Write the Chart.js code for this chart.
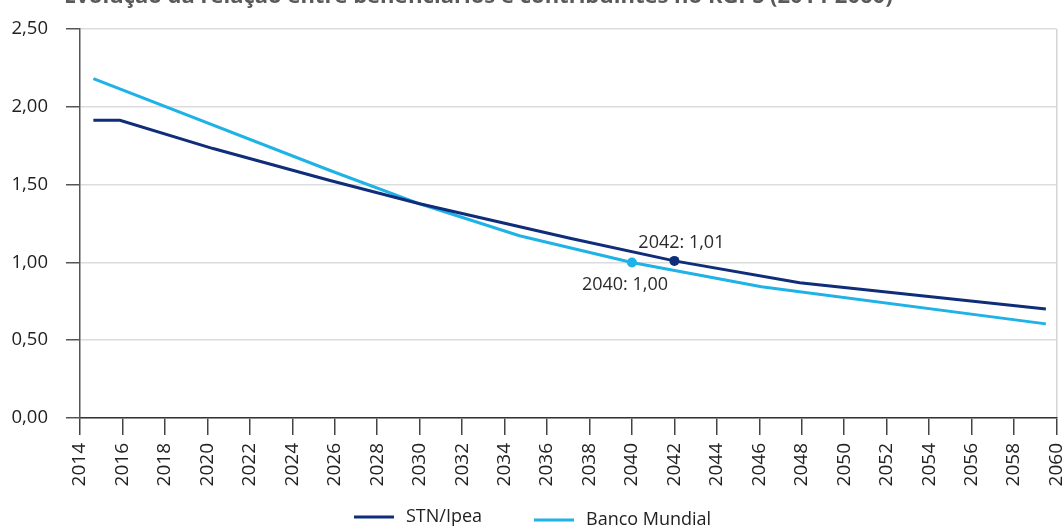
<!DOCTYPE html>
<html>
<head>
<meta charset="utf-8">
<script src="https://cdn.jsdelivr.net/npm/chart.js@4.4.1/dist/chart.umd.min.js"></script>
<style>
  html, body { margin: 0; padding: 0; background: #fff; }
</style>
</head>
<body>
<canvas id="myChart" width="1062" height="528"></canvas>
<script>
const chartTitle = 'Evolução da relação entre beneficiários e contribuintes no RGPS (2014-2060)';

// STN/Ipea projection
const stnYears = [2014.63, 2015.88, 2020.27, 2025.78, 2030.0, 2037.08, 2042, 2047.9, 2059.5];
const stnValues = [1.914, 1.914, 1.732, 1.527, 1.377, 1.155, 1.01, 0.869, 0.70];

// Banco Mundial projection
const bmYears = [2014.63, 2025.78, 2030.0, 2034.7, 2040, 2046.1, 2059.5];
const bmValues = [2.181, 1.591, 1.377, 1.172, 1.00, 0.844, 0.605];

const seriesNames = ['STN/Ipea', 'Banco Mundial'];
const seriesColors = ['#0f2d78', '#1fb2e6'];

// year of the highlighted point in each series
const markYears = [2042, 2040];

const fmt = v => v.toFixed(2).replace('.', ',');
const FONT = '"Open Sans", "Noto Sans", sans-serif';

const toPoints = (xs, ys) => xs.map((x, i) => ({ x: x, y: ys[i] }));

// title sits at the very top, mostly clipped by the canvas edge
const titlePlugin = {
    id: 'topTitle',
    afterDraw(chart) {
        const ctx = chart.ctx;
        ctx.save();
        ctx.font = 'bold 22px ' + FONT;
        ctx.fillStyle = '#5a5a5a';
        ctx.textAlign = 'left';
        ctx.textBaseline = 'alphabetic';
        ctx.fillText(chartTitle, 64, 3);
        ctx.restore();
    }
};

// "year: value" next to the highlighted points
const labelShift = [[7, -18], [-7, 22]];
const markerLabels = {
    id: 'markerLabels',
    afterDatasetsDraw(chart) {
        const ctx = chart.ctx;
        ctx.save();
        ctx.font = '18px ' + FONT;
        ctx.fillStyle = '#2b2b2b';
        ctx.textAlign = 'center';
        ctx.textBaseline = 'middle';
        chart.data.datasets.forEach((ds, i) => {
            const meta = chart.getDatasetMeta(i);
            ds.data.forEach((p, j) => {
                if (p.x !== markYears[i]) return;
                const el = meta.data[j];
                ctx.fillText(p.x + ': ' + fmt(p.y), el.x + labelShift[i][0], el.y + labelShift[i][1]);
            });
        });
        ctx.restore();
    }
};

// legend under the axis labels
const legendPos = [[354, 517], [534, 520]];
const bottomLegend = {
    id: 'bottomLegend',
    afterDraw(chart) {
        const ctx = chart.ctx;
        ctx.save();
        ctx.font = '18px ' + FONT;
        ctx.textBaseline = 'middle';
        ctx.textAlign = 'left';
        chart.data.datasets.forEach((ds, i) => {
            const [x, y] = legendPos[i];
            ctx.strokeStyle = ds.borderColor;
            ctx.lineWidth = 3;
            ctx.beginPath();
            ctx.moveTo(x, y);
            ctx.lineTo(x + 40, y);
            ctx.stroke();
            ctx.fillStyle = '#222';
            ctx.fillText(ds.label, x + 52, y);
        });
        ctx.restore();
    }
};

const data = {
    datasets: [
        {
            label: seriesNames[0],
            data: toPoints(stnYears, stnValues),
            borderColor: seriesColors[0],
            backgroundColor: seriesColors[0],
        },
        {
            label: seriesNames[1],
            data: toPoints(bmYears, bmValues),
            borderColor: seriesColors[1],
            backgroundColor: seriesColors[1],
        }
    ]
};

const config = {
    type: 'line',
    data: data,
    options: {
        responsive: false,
        animation: false,
        layout: {
            padding: { left: 0, right: 5.5, top: 24, bottom: 0 }
        },
        elements: {
            line: { borderWidth: 3, tension: 0 },
            point: {
                radius: ctx => (ctx.raw && ctx.raw.x === markYears[ctx.datasetIndex]) ? 5 : 0,
                borderWidth: 0
            }
        },
        plugins: {
            legend: { display: false },
            tooltip: { enabled: false }
        },
        scales: {
            x: {
                type: 'linear',
                min: 2014,
                max: 2060,
                ticks: {
                    stepSize: 2,
                    autoSkip: false,
                    minRotation: 90,
                    maxRotation: 90,
                    padding: 8,
                    color: '#222',
                    font: { family: FONT, size: 19 },
                    callback: v => String(v)
                },
                grid: {
                    color: ctx => (ctx.tick && ctx.tick.value === 2060) ? '#d4d4d4' : 'rgba(0,0,0,0)',
                    lineWidth: 1.5,
                    tickColor: '#444',
                    tickLength: 17
                },
                border: { color: '#333', width: 1.5 },
                afterFit(scale) {
                    scale.height = 110;
                    scale.paddingLeft = 0;
                    scale.paddingRight = 0;
                }
            },
            y: {
                min: 0,
                max: 2.5,
                ticks: {
                    stepSize: 0.5,
                    padding: 18,
                    color: '#222',
                    font: { family: FONT, size: 18.5 },
                    callback: v => fmt(v)
                },
                grid: {
                    color: '#dcdcdc',
                    lineWidth: 1.5,
                    tickColor: '#555',
                    tickLength: 14
                },
                border: { color: '#555', width: 1.5 },
                afterFit(scale) {
                    scale.width = 80;
                }
            }
        }
    },
    plugins: [titlePlugin, markerLabels, bottomLegend]
};

const myChart = new Chart(
    document.getElementById('myChart'),
    config
);
</script>
</body>
</html>
